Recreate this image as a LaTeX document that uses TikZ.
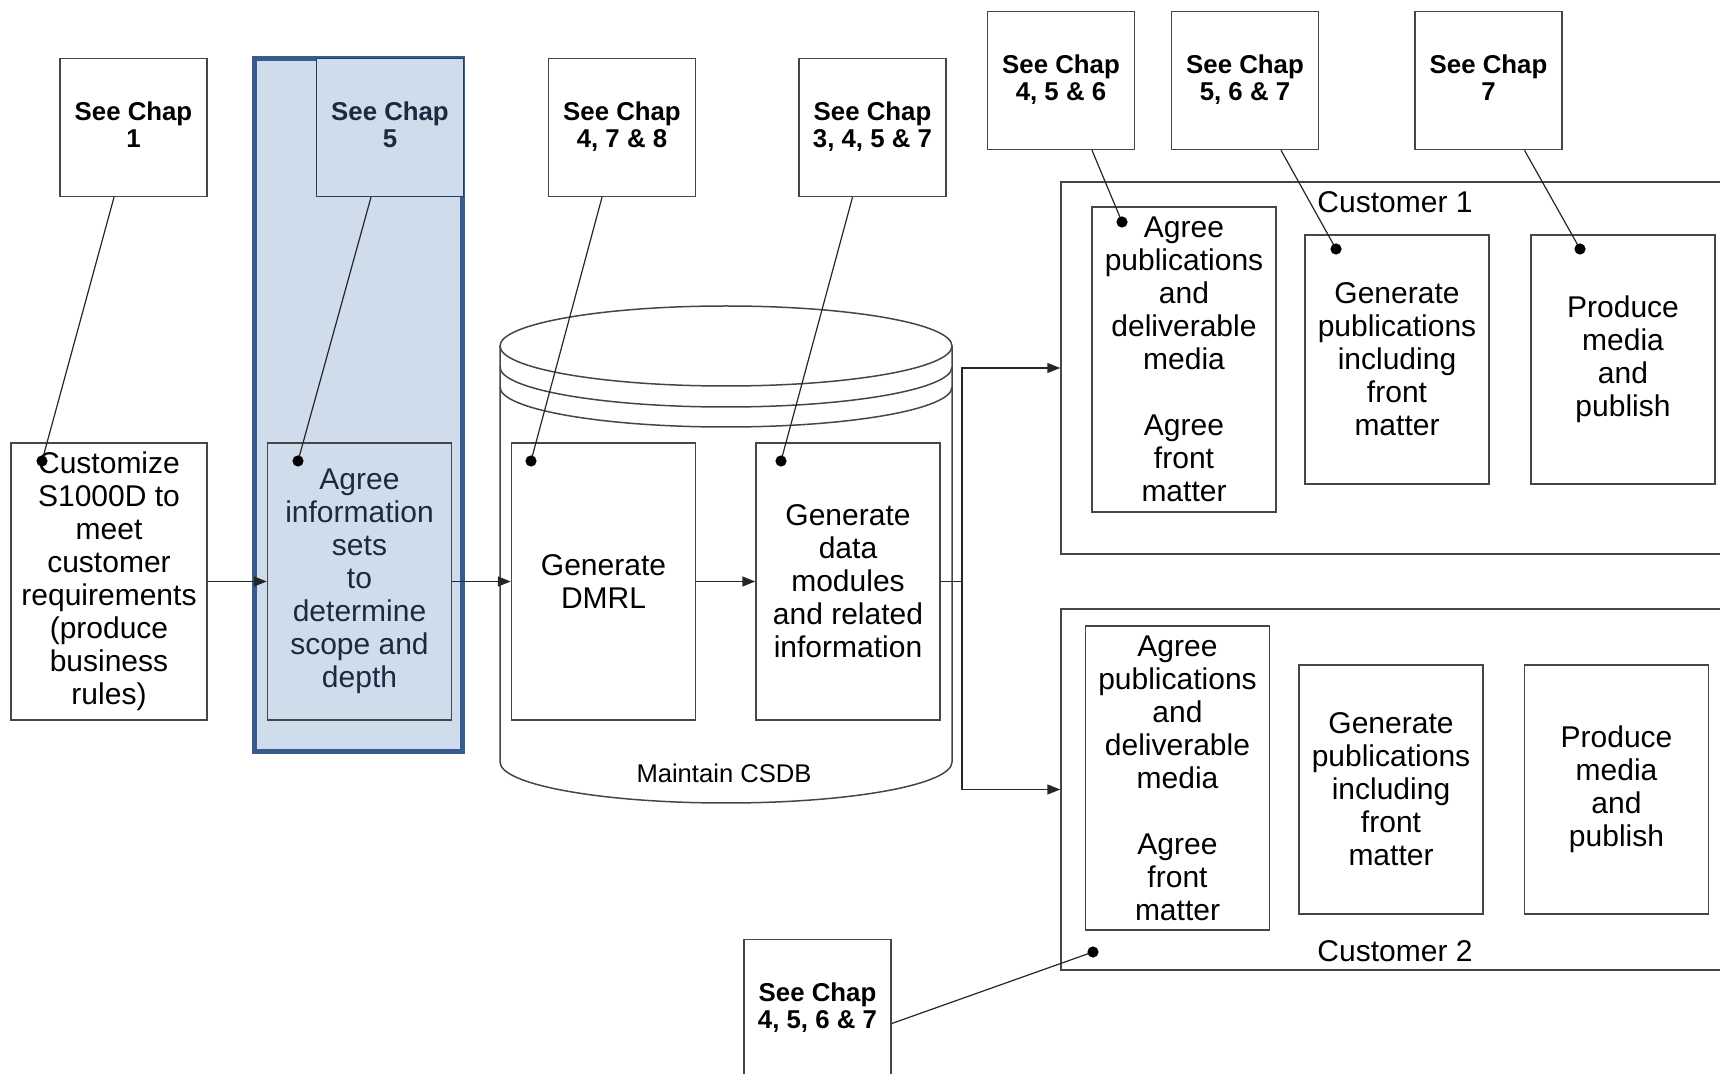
\documentclass[tikz,border=0pt]{standalone}
\usepackage{fontspec}
\setmainfont{Liberation Sans}
\usetikzlibrary{arrows.meta}

\definecolor{hlfill}{RGB}{207,220,236}
\definecolor{hlline}{RGB}{56,90,140}
\definecolor{hltext}{RGB}{30,40,65}
\definecolor{boxline}{RGB}{70,70,70}

\tikzset{every picture/.style={line width=0.75pt}}
\tikzset{
	chapbox/.style={draw=boxline, fill=white, minimum width=73.5pt, minimum height=69pt, inner sep=0pt, align=center, text depth=3pt, font=\fontsize{12.9}{13.7}\selectfont\bfseries},
	taskbox/.style={draw=boxline, fill=white, minimum width=92pt, inner sep=0pt, align=center, font=\fontsize{15}{16.5}\selectfont},
	hlbox/.style={fill=hlfill, text=hltext},
	custframe/.style={draw=boxline, minimum width=339.5pt, inner sep=0pt},
	flow/.style={draw=black!85, -{Triangle[length=6.5pt,width=5pt]}},
	pin/.style={draw=black!85, line width=0.6pt},
	txt/.style={inner sep=0pt, font=\fontsize{15}{16.5}\selectfont}
}

\begin{document}
\begin{tikzpicture}[x=0.5pt,y=0.5pt,yscale=-1,xscale=1]
	\useasboundingbox (0,0) rectangle (1720,1074);
	\clip (0,0) rectangle (1720,1074);
	
	%highlighted column
	\node [draw=hlline, line width=2.5pt, fill=hlfill, minimum width=104pt, minimum height=346.5pt, inner sep=0pt] (focus) at (358.5,405) {};
	
	%Shape: Can [id:csdb]
	\draw [draw=boxline]  (500,346) .. controls (500,323.9) and (601.2,306) .. (726,306) .. controls (850.8,306) and (952,323.9) .. (952,346) .. controls (952,368.1) and (850.8,386) .. (726,386) .. controls (601.2,386) and (500,368.1) .. (500,346) -- cycle ;
	\draw [draw=boxline]  (500,367) .. controls (500,389.1) and (601.2,407) .. (726,407) .. controls (850.8,407) and (952,389.1) .. (952,367) ;
	\draw [draw=boxline]  (500,387) .. controls (500,409.1) and (601.2,427) .. (726,427) .. controls (850.8,427) and (952,409.1) .. (952,387) ;
	\draw [draw=boxline]  (500,346) -- (500,762) .. controls (500,784.6) and (601.2,803) .. (726,803) .. controls (850.8,803) and (952,784.6) .. (952,762) -- (952,346) ;
	\node [inner sep=0pt, font=\fontsize{12.8}{14}\selectfont] (csdb) at (724,773) {Maintain CSDB};
	
	%customer frames
	\node [custframe, minimum height=186pt] (cust1) at (1400.5,368) {};
	\node [custframe, minimum height=180.5pt] (cust2) at (1400.5,789.5) {};
	\node [txt] (cust1lbl) at (1395,202) {Customer 1};
	\node [txt] (cust2lbl) at (1395,951) {Customer 2};
	
	%tasks
	\node [taskbox, minimum width=98pt, minimum height=138.5pt] (custom) at (109,581.5) {Customize\\S1000D to\\meet\\customer\\requirements\\(produce\\business\\rules)};
	\node [taskbox, hlbox, minimum height=138.5pt] (agreeinfo) at (359.5,581.5) {Agree\\information\\sets\\to\\determine\\scope and\\depth};
	\node [taskbox, minimum height=138.5pt] (dmrl) at (603.5,581.5) {Generate\\DMRL};
	\node [taskbox, minimum height=138.5pt] (datamod) at (848,581.5) {Generate\\data\\modules\\and related\\information};
	
	\node [taskbox, minimum height=152.5pt] (agreepub1) at (1184,359.5) {Agree\\publications\\and\\deliverable\\media\\[16.5pt]Agree\\front\\matter};
	\node [taskbox, minimum height=124.5pt] (genpub1) at (1397,359.5) {Generate\\publications\\including\\front\\matter};
	\node [taskbox, minimum height=124.5pt] (produce1) at (1623,359.5) {Produce\\media\\and\\publish};
	
	\node [taskbox, minimum height=152pt] (agreepub2) at (1177.5,778) {Agree\\publications\\and\\deliverable\\media\\[16.5pt]Agree\\front\\matter};
	\node [taskbox, minimum height=124.5pt] (genpub2) at (1391,789.5) {Generate\\publications\\including\\front\\matter};
	\node [taskbox, minimum height=124.5pt] (produce2) at (1616.5,789.5) {Produce\\media\\and\\publish};
	
	%chapter references
	\node [chapbox] (chap1) at (133.5,127.5) {See Chap\\1};
	\node [chapbox, hlbox, draw=hlline!70!black] (chap5) at (390,127.5) {See Chap\\5};
	\node [chapbox] (chap478) at (622,127.5) {See Chap\\4, 7 \& 8};
	\node [chapbox] (chap3457) at (872.5,127.5) {See Chap\\3, 4, 5 \& 7};
	\node [chapbox] (chap456) at (1061,80.5) {See Chap\\4, 5 \& 6};
	\node [chapbox] (chap567) at (1245,80.5) {See Chap\\5, 6 \& 7};
	\node [chapbox] (chap7) at (1488.5,80.5) {See Chap\\7};
	\node [chapbox] (chap4567) at (817.5,1008.5) {See Chap\\4, 5, 6 \& 7};
	
	%flow
	\coordinate (split) at (962,581.5);
	\draw [flow] (custom) -- (agreeinfo);
	\draw [flow] (agreeinfo) -- (dmrl);
	\draw [flow] (dmrl) -- (datamod);
	\draw [flow] (datamod.east) -- (split) |- (cust1.west);
	\draw [flow] (split) |- (cust2.west);
	
	%pins
	\coordinate (d1) at (42,461);
	\coordinate (d2) at (298,461);
	\coordinate (d3) at (531,461);
	\coordinate (d4) at (781,461);
	\coordinate (d5) at (1122,222);
	\coordinate (d6) at (1336,249);
	\coordinate (d7) at (1580,249);
	\coordinate (d8) at (1093,952);
	\draw [pin] ([xshift=-9.75pt]chap1.south) -- (d1);
	\draw [pin] ([xshift=-9.5pt]chap5.south) -- (d2);
	\draw [pin] ([xshift=-10pt]chap478.south) -- (d3);
	\draw [pin] ([xshift=-10pt]chap3457.south) -- (d4);
	\draw [pin] ([xshift=15.5pt]chap456.south) -- (d5);
	\draw [pin] ([xshift=18pt]chap567.south) -- (d6);
	\draw [pin] ([xshift=18pt]chap7.south) -- (d7);
	\draw [pin] ([yshift=7.5pt]chap4567.east) -- (d8);
	\fill (d1) circle (2.8pt);
	\fill (d2) circle (2.8pt);
	\fill (d3) circle (2.8pt);
	\fill (d4) circle (2.8pt);
	\fill (d5) circle (2.8pt);
	\fill (d6) circle (2.8pt);
	\fill (d7) circle (2.8pt);
	\fill (d8) circle (2.8pt);
	
\end{tikzpicture}
\end{document}
